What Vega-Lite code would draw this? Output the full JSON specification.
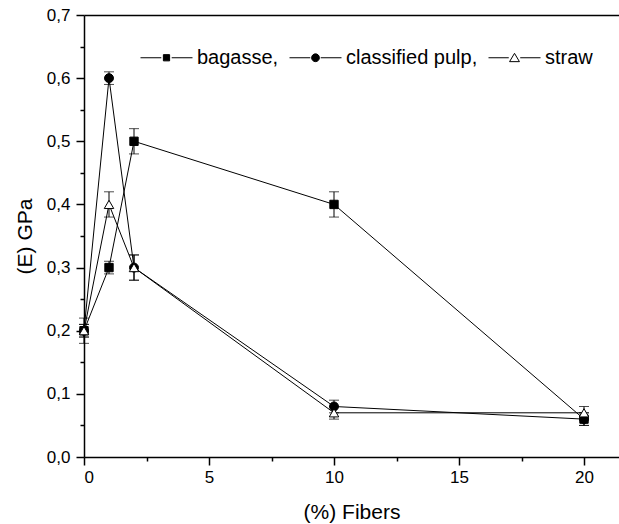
{
  "$schema": "https://vega.github.io/schema/vega-lite/v6.json",
  "autosize": {"type": "none"},
  "padding": {"left": 84, "top": 15, "right": 0, "bottom": 67},
  "width": 535,
  "height": 442,
  "background": "white",
  "config": {
    "view": {"stroke": null},
    "font": "Liberation Sans",
    "axis": {
      "domainColor": "black", "domainWidth": 1.5, "tickColor": "black", "tickWidth": 1.5,
      "labelColor": "black", "titleColor": "black", "labelFont": "Liberation Sans", "titleFont": "Liberation Sans",
      "grid": false, "titleFontWeight": "normal"
    },
    "legend": {
      "title": null, "orient": "none", "legendX": 56, "legendY": 16, "direction": "horizontal", "padding": 0,
      "symbolSize": 2704, "symbolStrokeWidth": 1, "symbolOpacity": 1,
      "labelFontSize": 20, "labelFont": "Liberation Sans", "labelColor": "black", "labelOffset": 4, "columnPadding": 8
    }
  },
  "data": {
    "values": [
      {"series": "bagasse", "x": 0, "y": 0.2, "lo": 0.19, "hi": 0.21},
      {"series": "bagasse", "x": 1, "y": 0.3, "lo": 0.29, "hi": 0.31},
      {"series": "bagasse", "x": 2, "y": 0.5, "lo": 0.48, "hi": 0.52},
      {"series": "bagasse", "x": 10, "y": 0.4, "lo": 0.38, "hi": 0.42},
      {"series": "bagasse", "x": 20, "y": 0.06, "lo": 0.05, "hi": 0.07},
      {"series": "classified pulp", "x": 0, "y": 0.2, "lo": 0.18, "hi": 0.22},
      {"series": "classified pulp", "x": 1, "y": 0.6, "lo": 0.59, "hi": 0.61},
      {"series": "classified pulp", "x": 2, "y": 0.3, "lo": 0.28, "hi": 0.32},
      {"series": "classified pulp", "x": 10, "y": 0.08, "lo": 0.07, "hi": 0.09},
      {"series": "classified pulp", "x": 20, "y": 0.06, "lo": 0.05, "hi": 0.07},
      {"series": "straw", "x": 0, "y": 0.2, "lo": 0.19, "hi": 0.21},
      {"series": "straw", "x": 1, "y": 0.4, "lo": 0.38, "hi": 0.42},
      {"series": "straw", "x": 2, "y": 0.3, "lo": 0.28, "hi": 0.32},
      {"series": "straw", "x": 10, "y": 0.07, "lo": 0.06, "hi": 0.08},
      {"series": "straw", "x": 20, "y": 0.07, "lo": 0.06, "hi": 0.08}
    ]
  },
  "resolve": {"axis": {"x": "independent", "y": "independent"}, "scale": {"shape": "independent", "fill": "independent", "stroke": "independent", "size": "independent"}},
  "layer": [
    {
      "mark": {"type": "line", "color": "black", "strokeWidth": 1},
      "encoding": {
        "x": {"field": "x", "type": "quantitative", "scale": {"domain": [0, 21.4], "nice": false, "zero": false},
          "axis": {"orient": "bottom", "values": [0, 5, 10, 15, 20], "tickSize": 8, "labelFontSize": 17, "labelPadding": 4,
            "title": "(%) Fibers", "titleFontSize": 21, "titlePadding": 16}},
        "y": {"field": "y", "type": "quantitative", "scale": {"domain": [0, 0.7], "nice": false, "zero": false},
          "axis": {"orient": "left", "values": [0, 0.1, 0.2, 0.3, 0.4, 0.5, 0.6, 0.7], "tickSize": 8, "labelFontSize": 17, "labelPadding": 6,
            "labelExpr": "replace(format(datum.value, '.1f'), '.', ',')",
            "title": "(E) GPa", "titleFontSize": 21, "titlePadding": 11}},
        "detail": {"field": "series"}
      }
    },
    {
      "mark": {"type": "rule", "color": "black", "strokeWidth": 1},
      "encoding": {
        "x": {"field": "x", "type": "quantitative",
          "axis": {"orient": "bottom", "values": [2.5, 7.5, 12.5, 17.5], "tickSize": 4, "labels": false, "domain": false, "title": null}},
        "y": {"field": "lo", "type": "quantitative",
          "axis": {"orient": "left", "values": [0.05, 0.15, 0.25, 0.35, 0.45, 0.55, 0.65], "tickSize": 4, "labels": false, "domain": false, "title": null}},
        "y2": {"field": "hi"}
      }
    },
    {
      "mark": {"type": "tick", "orient": "horizontal", "color": "black", "size": 10, "thickness": 1},
      "encoding": {
        "x": {"field": "x", "type": "quantitative",
          "axis": {"orient": "top", "ticks": false, "labels": false, "title": null, "domain": true}},
        "y": {"field": "lo", "type": "quantitative", "axis": null}
      }
    },
    {
      "mark": {"type": "tick", "orient": "horizontal", "color": "black", "size": 10, "thickness": 1},
      "encoding": {
        "x": {"field": "x", "type": "quantitative", "axis": null},
        "y": {"field": "hi", "type": "quantitative", "axis": null}
      }
    },
    {
      "mark": {"type": "point", "stroke": "black", "strokeWidth": 1, "opacity": 1},
      "encoding": {
        "x": {"field": "x", "type": "quantitative", "axis": null},
        "y": {"field": "y", "type": "quantitative", "axis": null},
        "fill": {"field": "series", "type": "nominal", "scale": {"domain": ["bagasse", "classified pulp", "straw"], "range": ["black", "black", "white"]}, "legend": null},
        "shape": {"field": "series", "type": "nominal", "scale": {"domain": ["bagasse", "classified pulp", "straw"], "range": ["square", "circle", "triangle-up"]}, "legend": null},
        "size": {"field": "series", "type": "nominal", "scale": {"domain": ["bagasse", "classified pulp", "straw"], "range": [70, 90, 140]}, "legend": null}
      }
    },
    {
      "mark": {"type": "point", "strokeWidth": 1, "size": 2704, "opacity": 0},
      "encoding": {
        "x": {"field": "x", "type": "quantitative", "axis": null},
        "y": {"field": "y", "type": "quantitative", "axis": null},
        "fill": {"field": "series", "type": "nominal", "scale": {"domain": ["bagasse", "classified pulp", "straw"], "range": ["black", "black", "white"]},
          "legend": {"labelExpr": "datum.label == 'straw' ? datum.label : datum.label + ','"}},
        "stroke": {"field": "series", "type": "nominal", "scale": {"domain": ["bagasse", "classified pulp", "straw"], "range": ["black", "black", "black"]},
          "legend": {"labelExpr": "datum.label == 'straw' ? datum.label : datum.label + ','"}},
        "shape": {"field": "series", "type": "nominal", "scale": {"domain": ["bagasse", "classified pulp", "straw"],
            "range": ["M-1,0H-0.2M0.2,0H1M-0.12,-0.12H0.12V0.12H-0.12Z", "M-1,0H-0.2M0.2,0H1M0.15,0A0.15,0.15,0,1,1,-0.15,0A0.15,0.15,0,1,1,0.15,0Z", "M-1,0H-0.22M0.22,0H1M0,-0.17L0.19,0.15L-0.19,0.15Z"]},
          "legend": {"labelExpr": "datum.label == 'straw' ? datum.label : datum.label + ','"}}
      }
    }
  ]
}
